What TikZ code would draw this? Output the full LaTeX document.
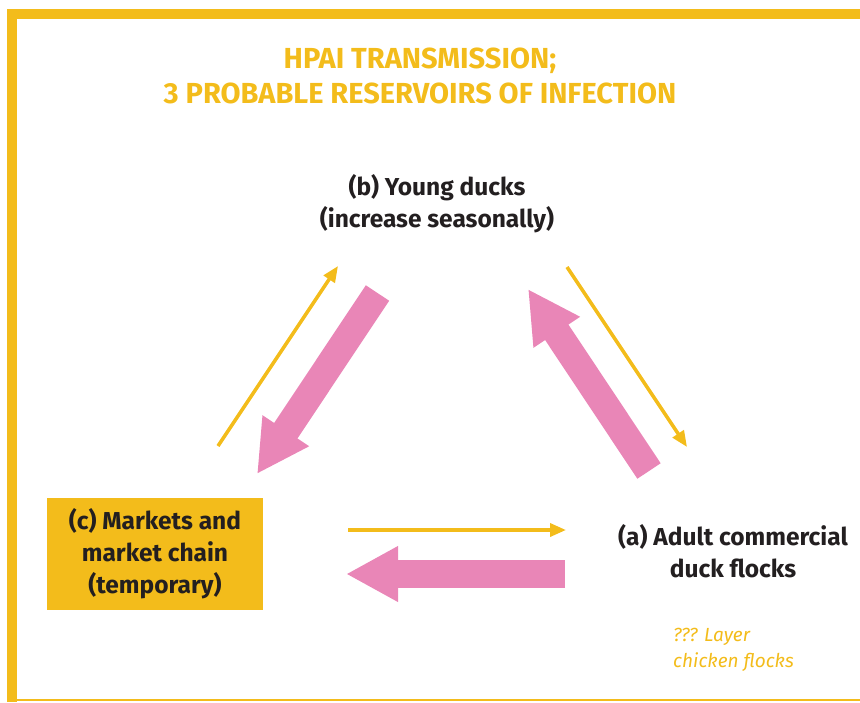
\documentclass[tikz,border=0pt]{standalone}
\usepackage{fontspec}
\setmainfont{Fira Sans}
\usetikzlibrary{arrows.meta}
\definecolor{hpaiyellow}{RGB}{243,188,27}
\definecolor{hpaipink}{RGB}{233,134,183}
\definecolor{hpaitext}{RGB}{35,31,32}

\begin{document}
\begin{tikzpicture}[x=1pt,y=-1pt,
    reservoir/.style={font=\fontsize{24.5}{32}\selectfont\bfseries,text=hpaitext,align=center,inner sep=0pt},
    thinflow/.style={draw=hpaiyellow,line width=3.5pt,-{Triangle[width=13pt,length=16pt]}},
    thickflow/.style={draw=hpaipink,line width=28pt,-{Triangle[width=52pt,length=52pt]}}]
  \useasboundingbox (0,0) rectangle (860,702);
  % cadre
  \fill[hpaiyellow] (7,9) rectangle (860,19);
  \fill[hpaiyellow] (7,9) rectangle (17,702);
  \fill[hpaiyellow] (17,698.5) rectangle (860,701);
  \node[text=hpaiyellow,font=\fontsize{29}{35}\selectfont\bfseries,align=center,inner sep=0pt] (titre) at (420,76)
    {HPAI TRANSMISSION;\\3 PROBABLE RESERVOIRS OF INFECTION};
  \node[reservoir] (b) at (437,204) {(b) Young ducks\\(increase seasonally)};
  \node[reservoir,fill=hpaiyellow,minimum width=216pt,minimum height=112pt] (c) at (155,554)
    {(c) Markets and\\market chain\\(temporary)};
  \node[reservoir] (a) at (733,551) {(a) Adult commercial\\duck flocks};
  \node[text=hpaiyellow,font=\fontsize{19}{26}\selectfont\itshape,align=left,inner sep=0pt,anchor=west] (layer) at (673,650)
    {??? Layer\\chicken flocks};
  % extremites des fleches
  \coordinate (cy1) at (218,446); \coordinate (by1) at (338,266);
  \coordinate (by2) at (567,267); \coordinate (ay2) at (687,447);
  \coordinate (cy3) at (348,530); \coordinate (ay3) at (566,530);
  \coordinate (bp1) at (377.5,293); \coordinate (cp1) at (257,474);
  \coordinate (ap2) at (649,471); \coordinate (bp2) at (528,289);
  \coordinate (ap3) at (565,574); \coordinate (cp3) at (346,574);
  \draw[thinflow] (cy1) -- (by1);
  \draw[thinflow] (by2) -- (ay2);
  \draw[thinflow] (cy3) -- (ay3);
  \draw[thickflow] (bp1) -- (cp1);
  \draw[thickflow] (ap2) -- (bp2);
  \draw[thickflow] (ap3) -- (cp3);
\end{tikzpicture}
\end{document}
